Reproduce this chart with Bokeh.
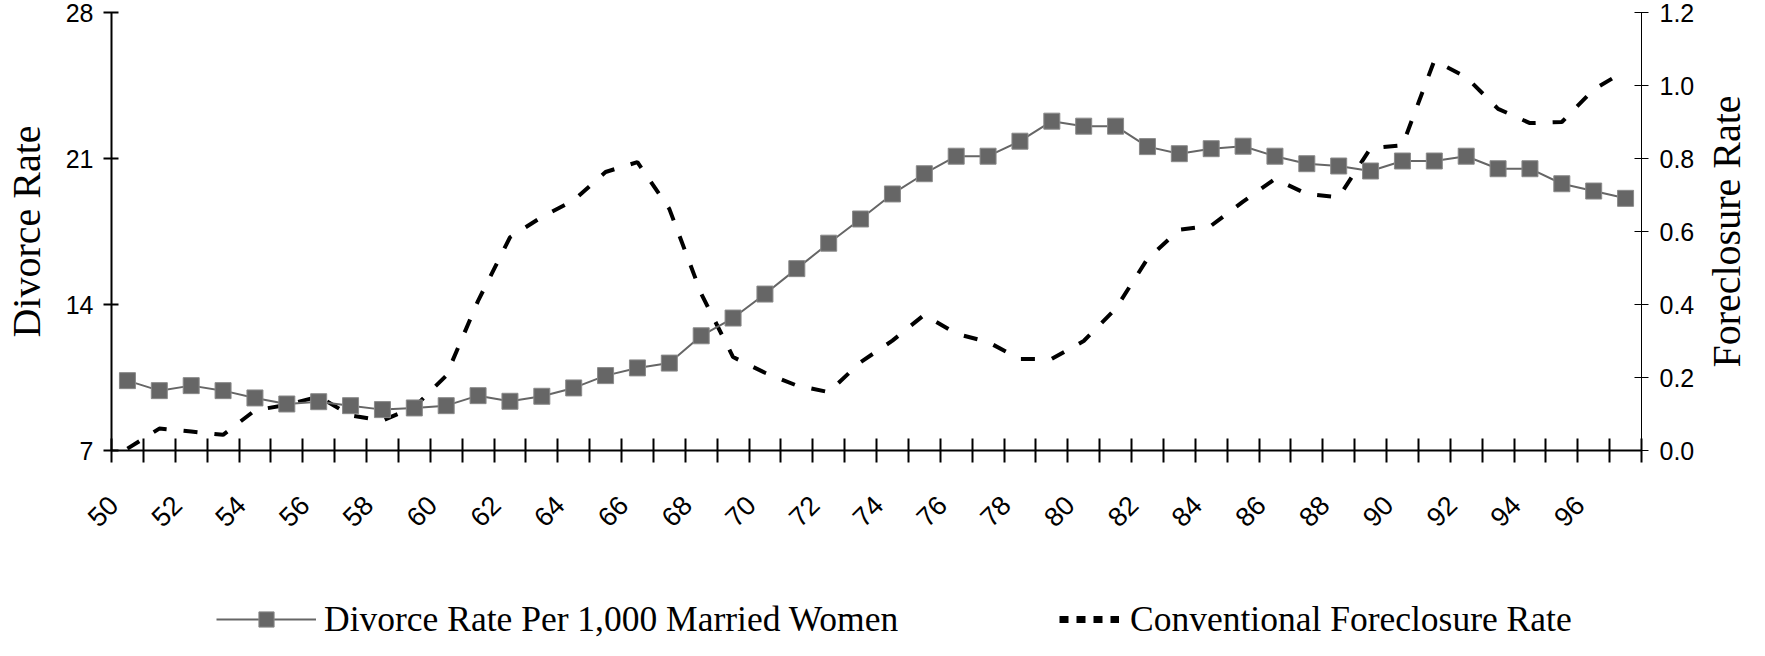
import math
from bokeh.plotting import figure
from bokeh.layouts import row, column
from bokeh.models import (Range1d, LinearAxis, FixedTicker, Legend, LegendItem,
                          ColumnDataSource, PrintfTickFormatter, CustomJSTickFormatter)
from bokeh.embed import file_html
from bokeh.resources import INLINE

# ---- data ----
years = list(range(50, 98))
divorce = [10.35, 9.87, 10.11, 9.87, 9.52, 9.23, 9.34, 9.15, 8.96, 9.04,
           9.15, 9.63, 9.36, 9.60, 10.00, 10.59, 10.96, 11.19, 12.50, 13.35,
           14.50, 15.72, 16.94, 18.10, 19.30, 20.27, 21.11, 21.11, 21.83, 22.79,
           22.55, 22.55, 21.57, 21.23, 21.47, 21.59, 21.11, 20.75, 20.64, 20.40,
           20.88, 20.88, 21.11, 20.51, 20.51, 19.79, 19.44, 19.09]
foreclosure = [0.005, 0.06, 0.052, 0.043, 0.11, 0.125, 0.148, 0.096, 0.082, 0.119,
               0.205, 0.41, 0.584, 0.64, 0.685, 0.763, 0.79, 0.662, 0.43, 0.256,
               0.213, 0.178, 0.16, 0.242, 0.301, 0.372, 0.32, 0.297, 0.251, 0.251,
               0.30, 0.388, 0.525, 0.605, 0.616, 0.682, 0.744, 0.703, 0.694, 0.828,
               0.836, 1.068, 1.023, 0.936, 0.897, 0.90, 0.989, 1.041]
x_label_years = list(range(50, 97, 2))
left_ticks = [7, 14, 21, 28]
right_ticks = [0.0, 0.2, 0.4, 0.6, 0.8, 1.0, 1.2]
series_names = ["Divorce Rate Per 1,000 Married Women", "Conventional Foreclosure Rate"]
left_title = "Divorce Rate"
right_title = "Foreclosure Rate"

SANS = "Liberation Sans"
SERIF = "Liberation Serif"
GRAY = "#666666"
TICK_FONT = "25px"
XTICK_FONT = "27px"
TITLE_FONT = "40px"
LABEL_SHIFT = 0.44   # rotated year labels sit a little left of the category centre

W_TOTAL = 1749
W_RIGHT = 50
H_MAIN = 590
H_LEG = 50


def clean(fig):
    fig.xgrid.visible = False
    fig.ygrid.visible = False
    fig.outline_line_color = None
    fig.background_fill_color = "white"
    fig.border_fill_color = "white"


# ---------------- main chart ----------------
p = figure(width=W_TOTAL - W_RIGHT, height=H_MAIN, output_backend="svg",
           toolbar_location=None,
           x_range=Range1d(years[0] - 0.5, years[-1] + 0.5),
           y_range=Range1d(left_ticks[0], left_ticks[-1]),
           min_border_left=105, min_border_right=58, min_border_top=12,
           min_border_bottom=H_MAIN - 450)
p.extra_y_ranges = {"fc": Range1d(right_ticks[0], right_ticks[-1])}
clean(p)

xa = p.xaxis[0]
xa.ticker = FixedTicker(ticks=[y - LABEL_SHIFT for y in x_label_years],
                        minor_ticks=[y - 0.5 for y in years] + [years[-1] + 0.5])
xa.formatter = CustomJSTickFormatter(code="return String(Math.round(tick));")
xa.major_tick_line_color = None
xa.major_tick_in = 0
xa.major_tick_out = 0
xa.minor_tick_in = 12
xa.minor_tick_out = 12
xa.minor_tick_line_width = 2
xa.minor_tick_line_color = "black"
xa.axis_line_width = 2
xa.axis_line_color = "black"
xa.major_label_orientation = math.pi / 4
xa.major_label_text_font = SANS
xa.major_label_text_font_size = XTICK_FONT
xa.major_label_text_color = "black"
xa.major_label_standoff = 38

ya = p.yaxis[0]
ya.ticker = FixedTicker(ticks=left_ticks)
ya.major_tick_in = 7
ya.major_tick_out = 8
ya.major_tick_line_width = 2
ya.minor_tick_line_color = None
ya.axis_line_width = 2
ya.axis_line_color = "black"
ya.major_label_text_font = SANS
ya.major_label_text_font_size = TICK_FONT
ya.major_label_text_color = "black"
ya.major_label_standoff = 10
ya.axis_label = left_title
ya.axis_label_text_font = SERIF
ya.axis_label_text_font_size = TITLE_FONT
ya.axis_label_text_font_style = "normal"
ya.axis_label_text_color = "black"
ya.axis_label_standoff = 14

ra = LinearAxis(y_range_name="fc", ticker=FixedTicker(ticks=right_ticks),
                formatter=PrintfTickFormatter(format="%.1f"))
ra.major_tick_in = 7
ra.major_tick_out = 7
ra.major_tick_line_width = 1
ra.minor_tick_line_color = None
ra.axis_line_width = 1
ra.axis_line_color = "black"
ra.major_label_text_font = SANS
ra.major_label_text_font_size = TICK_FONT
ra.major_label_text_color = "black"
ra.major_label_standoff = 11
p.add_layout(ra, "right")

src = ColumnDataSource(dict(x=years, d=divorce, f=foreclosure))
p.line("x", "f", source=src, y_range_name="fc", line_color="black",
       line_width=4, line_dash="14 17")
p.line("x", "d", source=src, line_color=GRAY, line_width=2)
p.scatter("x", "d", source=src, marker="square", size=16,
          fill_color=GRAY, line_color="#8a8a8a", line_width=1)

# ---------------- right title strip ----------------
p2 = figure(width=W_RIGHT, height=H_MAIN, output_backend="svg", toolbar_location=None,
            x_range=Range1d(0, 1), y_range=Range1d(0, 1),
            x_axis_location=None, y_axis_location="left",
            min_border_left=W_RIGHT - 1, min_border_right=0, min_border_top=12,
            min_border_bottom=H_MAIN - 450)
clean(p2)
a2 = p2.yaxis[0]
a2.ticker = FixedTicker(ticks=[])
a2.axis_line_color = None
a2.major_tick_line_color = None
a2.minor_tick_line_color = None
a2.major_tick_out = 0
a2.major_tick_in = 0
a2.minor_tick_out = 0
a2.minor_tick_in = 0
a2.axis_label = right_title
a2.axis_label_text_font = SERIF
a2.axis_label_text_font_size = TITLE_FONT
a2.axis_label_text_font_style = "normal"
a2.axis_label_text_color = "black"
a2.axis_label_standoff = 0

# ---------------- legend strip ----------------
# the strip's ranges (0..1) keep these proxy series out of view; only their
# legend glyphs are shown
lf = figure(width=W_TOTAL, height=H_LEG, output_backend="svg", toolbar_location=None,
            x_range=Range1d(0, 1), y_range=Range1d(0, 1),
            x_axis_location=None, y_axis_location=None,
            min_border_left=0, min_border_right=0, min_border_top=0, min_border_bottom=0)
clean(lf)
lsrc = ColumnDataSource(dict(x=years, d=divorce, f=foreclosure))
lg1 = lf.line("x", "d", source=lsrc, line_color=GRAY, line_width=2)
lg2 = lf.scatter("x", "d", source=lsrc, marker="square", size=15,
                 fill_color=GRAY, line_color="#8a8a8a")
lg3 = lf.line("x", "f", source=lsrc, line_color="black", line_width=7, line_dash="9 8")

common = dict(padding=0, margin=0, border_line_color=None, background_fill_alpha=0,
              label_text_font=SERIF, label_text_font_size="35.5px",
              label_text_color="black", glyph_height=38)
leg1 = Legend(items=[LegendItem(label=series_names[0], renderers=[lg1, lg2])],
              location=(216, 0), glyph_width=100, label_standoff=8, **common)
leg2 = Legend(items=[LegendItem(label=series_names[1], renderers=[lg3])],
              location=(1059, 0), glyph_width=60, label_standoff=11, **common)
lf.add_layout(leg1, "center")
lf.add_layout(leg2, "center")

layout = column(row(p, p2, spacing=0), lf, spacing=0)
open("out.html", "w").write(file_html(layout, INLINE))
